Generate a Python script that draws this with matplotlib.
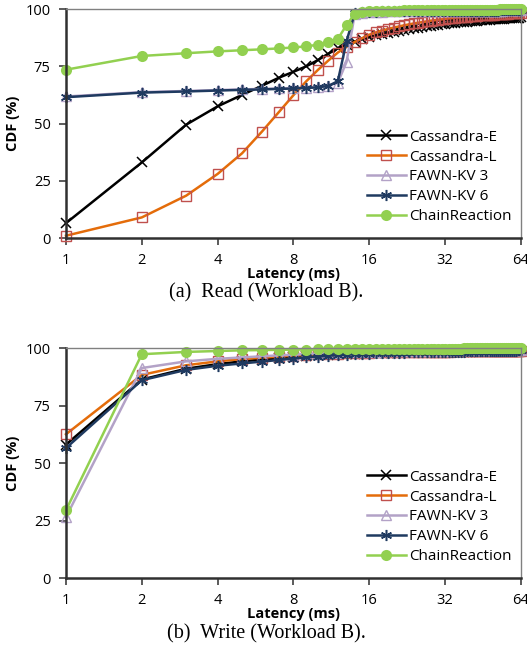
import numpy as np
import matplotlib.pyplot as plt

latency = list(range(1, 65))

# ---- read (workload B) ----
read_cass_e = [6.5, 33, 49.5, 57.5, 62.5, 66.5, 70, 72.6, 75, 77.7,
               80.5, 82.8, 84.5, 85.8, 86.9, 87.8, 88.5, 89.1, 89.6, 90.1,
               90.5, 90.9, 91.3, 91.6, 91.9, 92.2, 92.5, 92.7, 92.9, 93.1,
               93.3, 93.5, 93.7, 93.85, 94.0, 94.15, 94.3, 94.4, 94.5, 94.6,
               94.7, 94.8, 94.9, 95.0, 95.1, 95.2, 95.3, 95.4, 95.45, 95.5,
               95.6, 95.65, 95.7, 95.8, 95.85, 95.9, 95.95, 96.0, 96.05, 96.1,
               96.15, 96.2, 96.25, 96.3]
read_cass_l = [1, 9, 18.5, 28, 37, 46.5, 55, 62.4, 68.5, 73.4,
               77.5, 81, 83.5, 85.6, 87.3, 88.8, 89.8, 90.6, 91.3, 91.9,
               92.4, 92.9, 93.3, 93.7, 94.0, 94.3, 94.6, 94.9, 95.1, 95.3,
               95.5, 95.7, 95.9, 96.05, 96.2, 96.35, 96.5, 96.6, 96.7, 96.8,
               96.9, 97.0, 97.1, 97.2, 97.3, 97.35, 97.4, 97.5, 97.55, 97.6,
               97.7, 97.75, 97.8, 97.85, 97.9, 97.95, 98.0, 98.05, 98.1, 98.15,
               98.2, 98.25, 98.3, 98.35]
read_fawn3 = [61.8, 63.7, 64.2, 64.6, 64.9, 65.1, 65.3, 65.5, 65.7, 66.0,
              66.6, 67.8, 77, 97.8, 98.4, 98.7, 98.8, 98.9, 98.95, 99.0,
              99.0, 99.05, 99.05, 99.1, 99.1, 99.1, 99.15, 99.15, 99.15, 99.2,
              99.2, 99.2, 99.2, 99.22, 99.22, 99.24, 99.24, 99.25, 99.26, 99.27,
              99.28, 99.28, 99.29, 99.3, 99.3, 99.31, 99.32, 99.32, 99.33, 99.33,
              99.34, 99.34, 99.35, 99.35, 99.36, 99.36, 99.37, 99.37, 99.38, 99.38,
              99.39, 99.39, 99.4, 99.4]
read_fawn6 = [61.5, 63.5, 64, 64.4, 64.7, 64.9, 65.1, 65.3, 65.5, 65.8,
              66.4, 68.5, 86, 98.2, 98.6, 98.8, 98.9, 98.95, 99.0, 99.05,
              99.05, 99.1, 99.1, 99.1, 99.15, 99.15, 99.15, 99.2, 99.2, 99.2,
              99.2, 99.22, 99.22, 99.24, 99.24, 99.25, 99.26, 99.27, 99.28, 99.28,
              99.29, 99.3, 99.3, 99.31, 99.32, 99.32, 99.33, 99.33, 99.34, 99.34,
              99.35, 99.35, 99.36, 99.36, 99.37, 99.37, 99.38, 99.38, 99.39, 99.39,
              99.4, 99.4, 99.4, 99.4]
read_chain = [73.5, 79.5, 80.7, 81.5, 82, 82.4, 82.8, 83.2, 83.7, 84.4,
              85.4, 87, 93, 98, 98.7, 99.0, 99.1, 99.2, 99.25, 99.3,
              99.35, 99.4, 99.4, 99.45, 99.45, 99.5, 99.5, 99.5, 99.55, 99.55,
              99.55, 99.6, 99.6, 99.6, 99.62, 99.63, 99.64, 99.65, 99.66, 99.67,
              99.68, 99.69, 99.7, 99.7, 99.71, 99.72, 99.73, 99.74, 99.75, 99.76,
              99.77, 99.78, 99.79, 99.8, 99.81, 99.82, 99.83, 99.84, 99.85, 99.86,
              99.87, 99.88, 99.89, 99.9]

# ---- write (workload B) ----
write_cass_e = [58, 86.3, 91, 93, 94.2, 95, 95.6, 96.1, 96.5, 96.8,
                97.05, 97.25, 97.4, 97.55, 97.65, 97.75, 97.85, 97.9, 97.95, 98.0,
                98.05, 98.1, 98.1, 98.15, 98.15, 98.2, 98.2, 98.25, 98.25, 98.3,
                98.3, 98.3, 98.35, 98.35, 98.4, 98.4, 98.4, 98.45, 98.45, 98.45,
                98.5, 98.5, 98.5, 98.55, 98.55, 98.55, 98.6, 98.6, 98.6, 98.6,
                98.65, 98.65, 98.65, 98.7, 98.7, 98.7, 98.7, 98.75, 98.75, 98.75,
                98.75, 98.8, 98.8, 98.8]
write_cass_l = [62.5, 88.3, 92.5, 94.2, 95.2, 95.8, 96.3, 96.7, 97.0, 97.2,
                97.4, 97.55, 97.7, 97.8, 97.9, 98.0, 98.05, 98.1, 98.15, 98.2,
                98.2, 98.25, 98.25, 98.3, 98.3, 98.35, 98.35, 98.4, 98.4, 98.4,
                98.45, 98.45, 98.45, 98.5, 98.5, 98.5, 98.5, 98.55, 98.55, 98.55,
                98.55, 98.6, 98.6, 98.6, 98.6, 98.65, 98.65, 98.65, 98.65, 98.7,
                98.7, 98.7, 98.7, 98.7, 98.75, 98.75, 98.75, 98.75, 98.75, 98.8,
                98.8, 98.8, 98.8, 98.8]
write_fawn3 = [26.5, 91.3, 94.2, 95.3, 95.9, 96.4, 96.8, 97.1, 97.4, 97.6,
               97.8, 97.95, 98.1, 98.2, 98.3, 98.4, 98.45, 98.5, 98.55, 98.6,
               98.65, 98.7, 98.7, 98.75, 98.75, 98.8, 98.8, 98.85, 98.85, 98.85,
               98.9, 98.9, 98.9, 98.95, 98.95, 98.95, 98.95, 99.0, 99.0, 99.0,
               99.0, 99.05, 99.05, 99.05, 99.05, 99.05, 99.1, 99.1, 99.1, 99.1,
               99.1, 99.1, 99.15, 99.15, 99.15, 99.15, 99.15, 99.15, 99.2, 99.2,
               99.2, 99.2, 99.2, 99.2]
write_fawn6 = [56.5, 86, 90.5, 92.3, 93.3, 94.1, 94.8, 95.4, 95.9, 96.3,
               96.6, 96.9, 97.1, 97.3, 97.5, 97.6, 97.7, 97.8, 97.85, 97.9,
               97.95, 98.0, 98.05, 98.1, 98.1, 98.15, 98.2, 98.2, 98.25, 98.25,
               98.3, 98.3, 98.35, 98.35, 98.4, 98.4, 98.45, 98.45, 98.5, 98.5,
               98.5, 98.55, 98.55, 98.6, 98.6, 98.6, 98.65, 98.65, 98.7, 98.7,
               98.7, 98.75, 98.75, 98.8, 98.8, 98.8, 98.85, 98.85, 98.9, 98.9,
               98.9, 98.95, 98.95, 99.0]
write_chain = [29.5, 97.3, 98.3, 98.7, 99.0, 99.1, 99.2, 99.3, 99.35, 99.4,
               99.45, 99.5, 99.5, 99.55, 99.55, 99.6, 99.6, 99.6, 99.65, 99.65,
               99.65, 99.7, 99.7, 99.7, 99.7, 99.72, 99.72, 99.74, 99.74, 99.75,
               99.75, 99.76, 99.76, 99.77, 99.77, 99.78, 99.78, 99.79, 99.79, 99.8,
               99.8, 99.8, 99.81, 99.81, 99.82, 99.82, 99.83, 99.83, 99.84, 99.84,
               99.85, 99.85, 99.86, 99.86, 99.87, 99.87, 99.88, 99.88, 99.88, 99.89,
               99.89, 99.9, 99.9, 99.9]

labels = ['Cassandra-E', 'Cassandra-L', 'FAWN-KV 3', 'FAWN-KV 6', 'ChainReaction']
x_ticks = [1, 2, 4, 8, 16, 32, 64]
y_ticks = [0, 25, 50, 75, 100]

styles = [
    dict(color='black', marker='x', ms=7, mew=1.1, mfc='none', mec='black'),
    dict(color='#E46C0A', marker='s', ms=7, mew=1.0, mfc='none', mec='#C0504D'),
    dict(color='#B3A2C7', marker='^', ms=7, mew=1.0, mfc='none', mec='#B3A2C7'),
    dict(color='#1F3A60', marker=(6, 2, 0), ms=8, mew=1.1, mec='#1F3A60'),
    dict(color='#92D050', marker='o', ms=8, mew=0, mfc='#92D050'),
]

tick_font = 'Open Sans'

def draw(ax, series):
    for vals, lab, st in zip(series, labels, styles):
        ax.plot(latency, vals, label=lab, lw=1.8, clip_on=False, **st)
    ax.set_xscale('log', base=2)
    ax.set_xlim(1, 64)
    ax.set_ylim(0, 100)
    ax.set_xticks(x_ticks)
    ax.set_xticklabels([str(t) for t in x_ticks])
    ax.xaxis.set_minor_locator(plt.NullLocator())
    ax.set_yticks(y_ticks)
    ax.tick_params(direction='out', length=5, width=1.2, colors='#404040',
                   labelcolor='black', labelsize=10.5, pad=6)
    for t in ax.get_xticklabels() + ax.get_yticklabels():
        t.set_fontfamily(tick_font)
    for s in ('left', 'bottom'):
        ax.spines[s].set_color('#303030')
        ax.spines[s].set_linewidth(1.8)
    for s in ('top', 'right'):
        ax.spines[s].set_color('#808080')
        ax.spines[s].set_linewidth(1.0)
    ax.set_ylabel('CDF (%)', fontsize=10.5, fontweight='bold', family=tick_font, labelpad=4)
    ax.set_xlabel('Latency (ms)', fontsize=10.5, fontweight='bold', family=tick_font, labelpad=-1)
    ax.legend(loc='lower right', frameon=False, prop={'family': tick_font, 'size': 11},
              handlelength=2.6, handletextpad=0.2, labelspacing=0.32,
              borderaxespad=0.2, bbox_to_anchor=(1.0, 0.02))
    return ax

fig = plt.figure(figsize=(5.27, 6.63), dpi=100)
ax1 = fig.add_axes([0.1252, 0.641, 0.8634, 0.3454])
draw(ax1, [read_cass_e, read_cass_l, read_fawn3, read_fawn6, read_chain])
ax2 = fig.add_axes([0.1252, 0.1282, 0.8634, 0.3469])
draw(ax2, [write_cass_e, write_cass_l, write_fawn3, write_fawn6, write_chain])

fig.text(0.505, 1 - 293 / 663, '(a)  Read (Workload B).', ha='center', va='center',
         family='Liberation Serif', fontsize=14.5)
fig.text(0.505, 1 - 634 / 663, '(b)  Write (Workload B).', ha='center', va='center',
         family='Liberation Serif', fontsize=14.5)

fig.savefig('out.png', dpi=100)
